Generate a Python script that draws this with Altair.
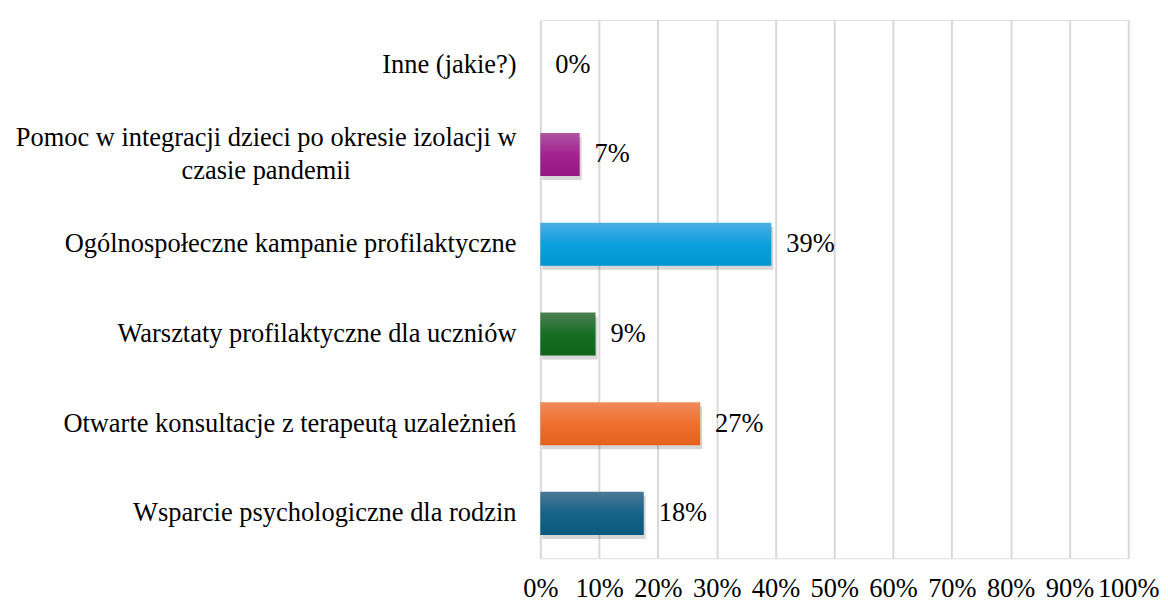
import altair as alt
import pandas as pd

# Categories top-to-bottom as shown in the chart
categories = [
    "Inne (jakie?)",
    "Pomoc w integracji dzieci po okresie izolacji w\nczasie pandemii",
    "Ogólnospołeczne kampanie profilaktyczne",
    "Warsztaty profilaktyczne dla uczniów",
    "Otwarte konsultacje z terapeutą uzależnień",
    "Wsparcie psychologiczne dla rodzin",
]
values = [0, 6.7, 39.3, 9.4, 27.2, 17.6]
value_labels = ["0%", "7%", "39%", "9%", "27%", "18%"]
gradients = [
    None,
    ["#AE55A3", "#A3238F", "#961885"],
    ["#4CAEE2", "#0BA0DE", "#0094D2"],
    ["#4E8054", "#166E23", "#10641C"],
    ["#EF8B5D", "#F07030", "#E4601C"],
    ["#4B7896", "#166388", "#0C597E"],
]
x_ticks = [0, 10, 20, 30, 40, 50, 60, 70, 80, 90, 100]

FONT = "Liberation Serif"
FS = 26.6

df = pd.DataFrame({
    "cat": categories,
    "val": values,
    "lab": value_labels,
    "idx": list(range(len(categories))),
    "multi": ["\n" in c for c in categories],
})

y_enc = alt.Y(
    "cat:N",
    sort=categories,
    axis=None,
    scale=alt.Scale(paddingInner=0.52, paddingOuter=0.26),
)
x_enc = alt.X(
    "val:Q",
    scale=alt.Scale(domain=[0, 100]),
    axis=alt.Axis(
        values=x_ticks,
        labelExpr="datum.value + '%'",
        title=None,
        domain=False,
        ticks=False,
        grid=True,
        gridColor="#D9D9D9",
        gridWidth=2,
        labelFont=FONT,
        labelFontSize=FS,
        labelColor="#000000",
        labelPadding=18,
        labelOverlap=False,
        labelBound=False,
        labelFlush=False,
    ),
)

base = alt.Chart(df)

layers = []

shadow = base.transform_filter("datum.val > 0").mark_bar(
    color="#000000", opacity=0.16, xOffset=2, yOffset=4
).encode(x=x_enc, y=y_enc)
layers.append(shadow)

for i, g in enumerate(gradients):
    if g is None:
        continue
    grad = alt.LinearGradient(
        gradient="linear",
        x1=0, x2=0, y1=0, y2=1,
        stops=[
            alt.GradientStop(offset=0, color=g[0]),
            alt.GradientStop(offset=0.5, color=g[1]),
            alt.GradientStop(offset=1, color=g[2]),
        ],
    )
    layers.append(
        base.transform_filter(f"datum.idx == {i}")
        .mark_bar(color=grad)
        .encode(x=alt.X("val:Q"), y=alt.Y("cat:N", sort=categories))
    )

value_text = base.mark_text(
    align="left", baseline="middle", dx=15, font=FONT, fontSize=FS, color="#000000"
).encode(x=alt.X("val:Q"), y=alt.Y("cat:N", sort=categories), text="lab:N")
layers.append(value_text)

cat_single = base.transform_filter("!datum.multi").mark_text(
    align="right", baseline="middle", font=FONT, fontSize=FS, color="#000000"
).encode(x=alt.value(-24), y=alt.Y("cat:N", sort=categories), text="cat:N")
layers.append(cat_single)

cat_multi = base.transform_filter("datum.multi").mark_text(
    align="center", baseline="middle", font=FONT, fontSize=FS, color="#000000",
    lineBreak="\n", lineHeight=33, dy=-16.5,
).encode(x=alt.value(-276), y=alt.Y("cat:N", sort=categories), text="cat:N")
layers.append(cat_multi)

chart = alt.layer(*layers).properties(
    width=592,
    height=542,
    autosize=alt.AutoSizeParams(type="none"),
    padding={"left": 536, "top": 10, "right": 32, "bottom": 44},
).configure_view(stroke=None).configure(background="#ffffff")

chart.save("out.html", embed_options={"renderer": "svg", "actions": False})
